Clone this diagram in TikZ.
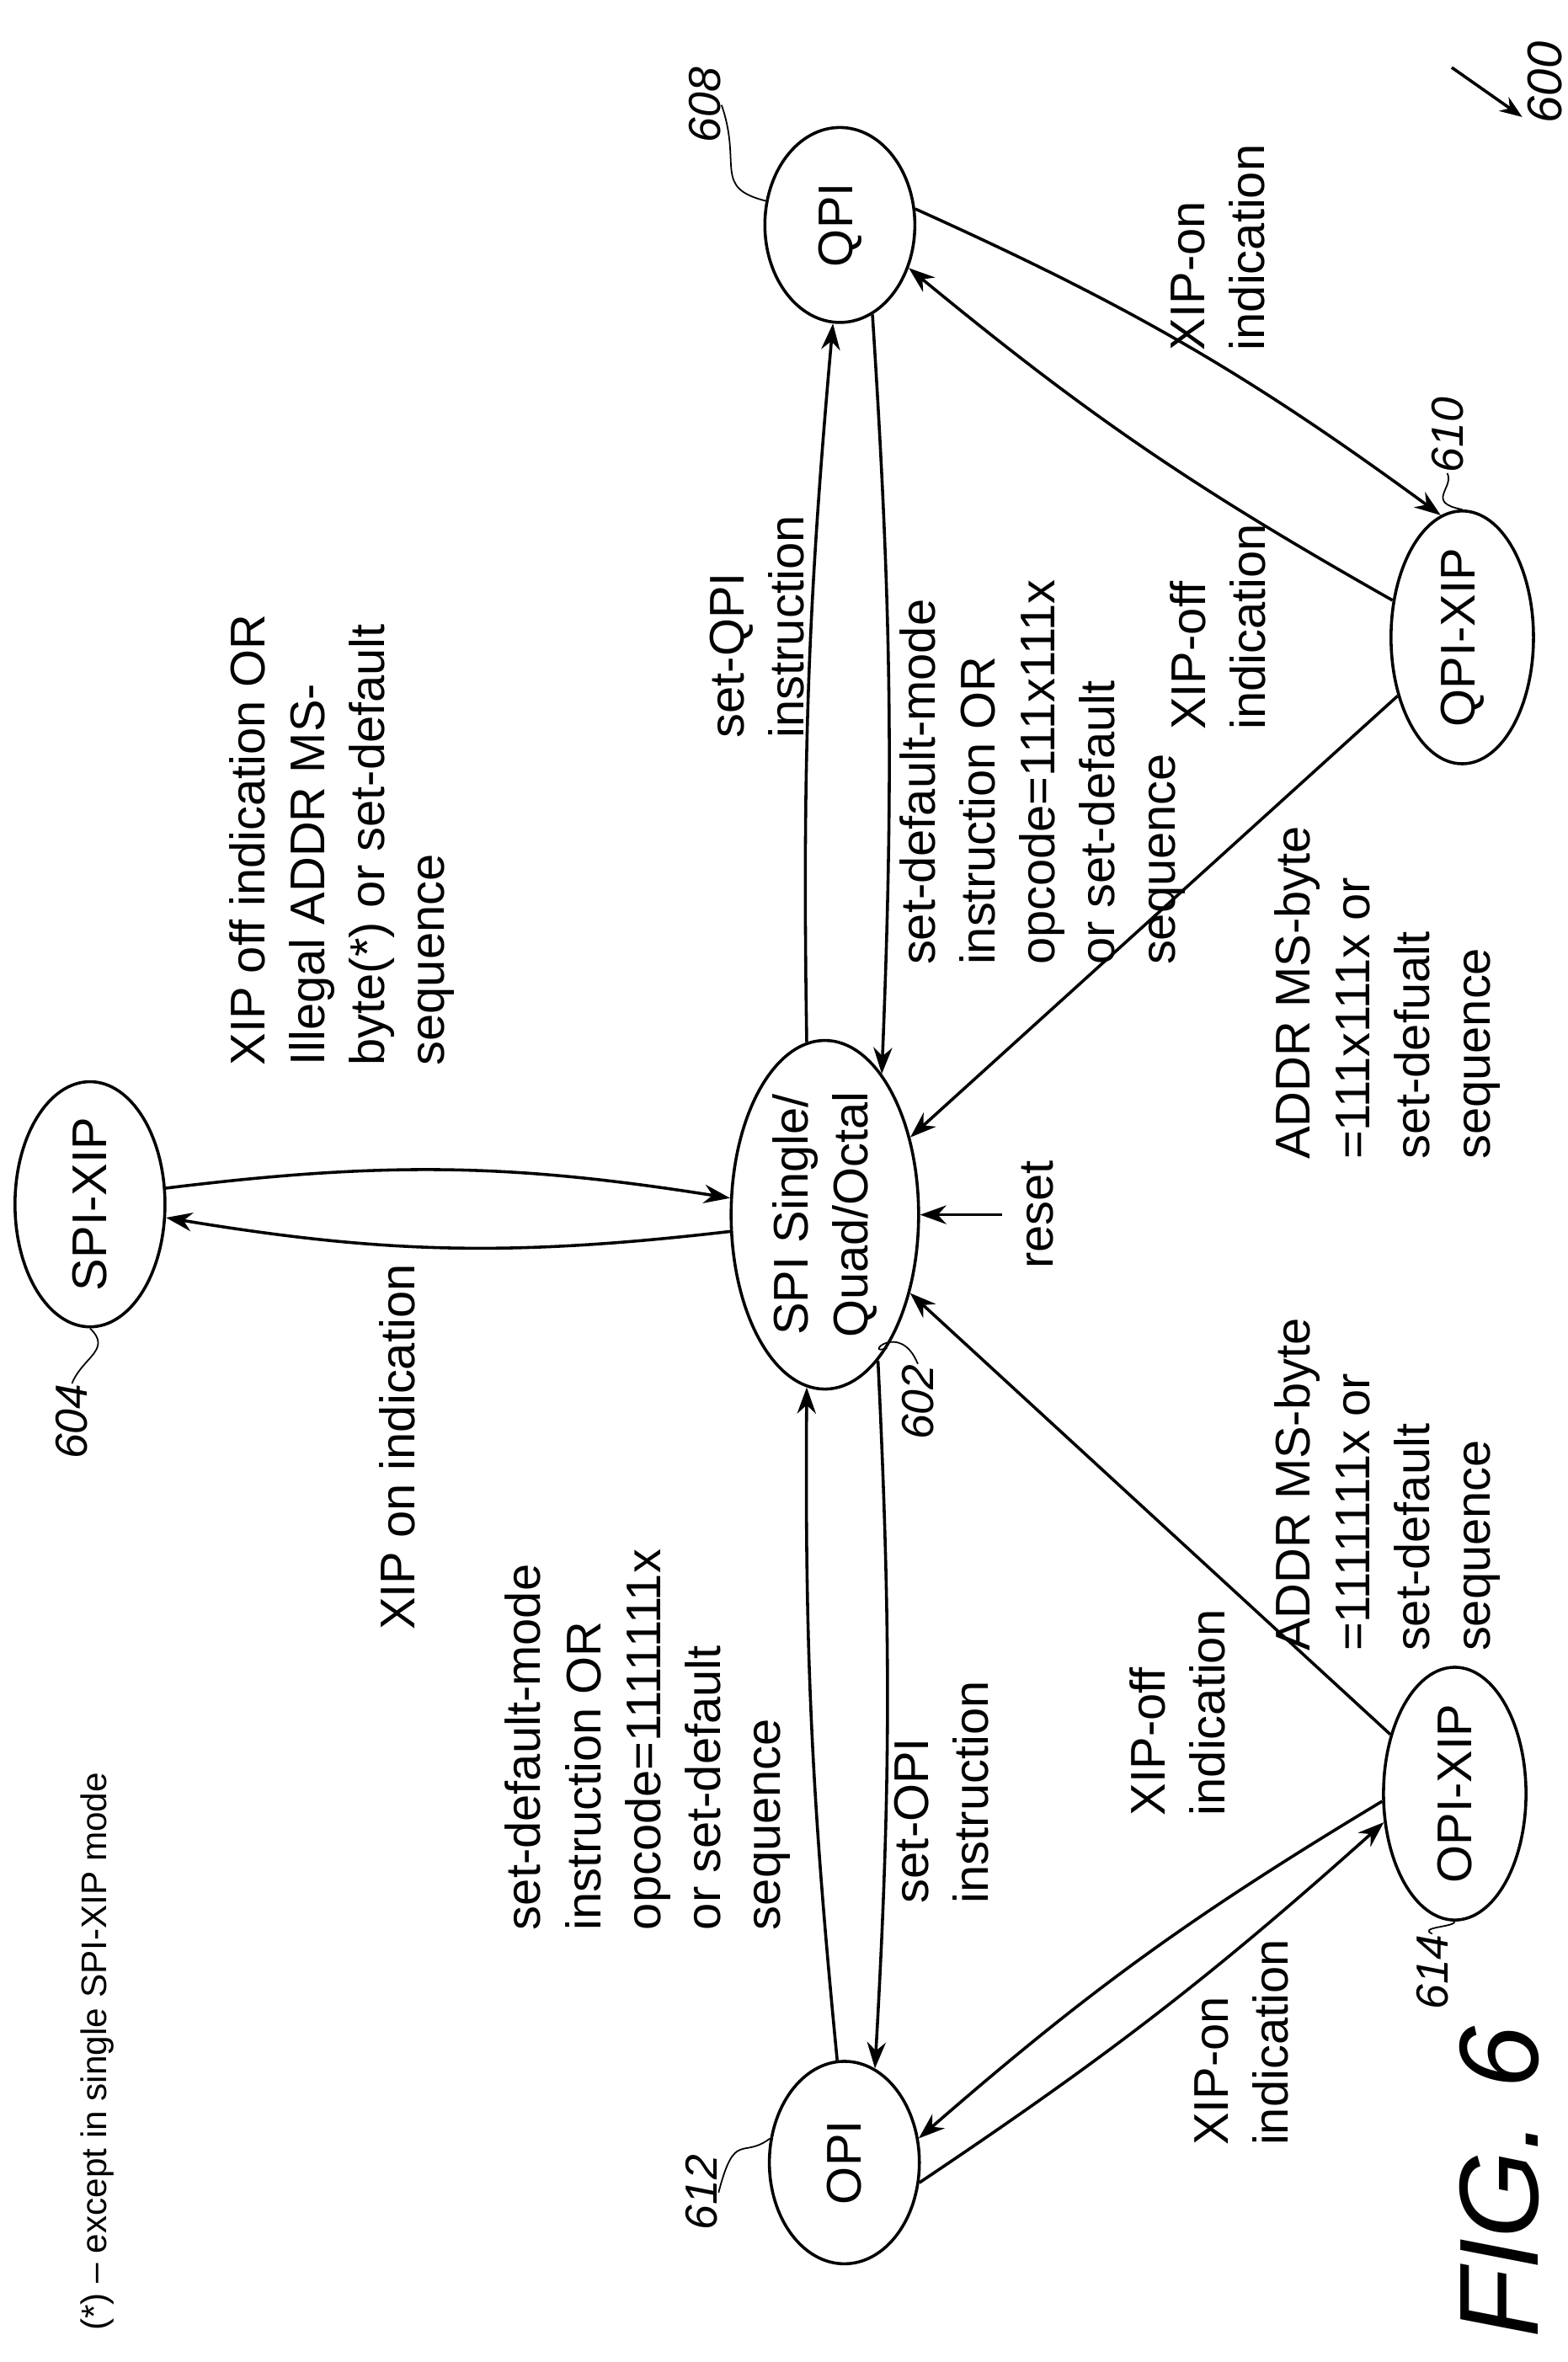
\documentclass[tikz,border=0pt]{standalone}
\usepackage{fontspec}
\setmainfont{Liberation Sans}
\usetikzlibrary{shapes.geometric,arrows.meta}

\tikzset{
    state/.style={draw, ellipse, thick, rotate=90, inner sep=0pt, align=center},
    lbl/.style={rotate=90, align=left, inner sep=0pt},
    refnum/.style={rotate=90, inner sep=0pt, font=\fontsize{12}{14}\selectfont\itshape},
    trans/.style={thick, -{Stealth[length=7pt,width=5pt]}},
}

\begin{document}
\begin{tikzpicture}[x=0.4pt, y=-0.4pt, font=\fontsize{13}{16}\selectfont]
\useasboundingbox (0,0) rectangle (1045,1575);

% states
\node [state, minimum width=60pt, minimum height=50pt] (spi) at (550,810) {SPI Single/\\Quad/Octal};
\node [state, minimum width=50pt, minimum height=40pt] (spixip) at (60,803) {SPI-XIP};
\node [state, minimum width=52pt, minimum height=40pt] (qpi) at (560,150) {QPI};
\node [state, minimum width=60pt, minimum height=38pt] (qpixip) at (975,425) {QPI-XIP};
\node [state, minimum width=54pt, minimum height=40pt] (opi) at (563,1442) {OPI};
\node [state, minimum width=58pt, minimum height=38pt] (opixip) at (970,1196) {OPI-XIP};

% transitions
\draw [trans] (spixip.-78) to[bend left=8] (spi.80);
\draw [trans] (spi.100) to[bend left=8] (spixip.-100);
\draw [trans] (spi.6) to[bend left=3] (qpi.176);
\draw [trans] (qpi.200) to[bend left=3] (spi.-22);
\draw [trans] (qpi.-78) to[bend left=6] (qpixip.10);
\draw [trans] (qpixip.62) to[bend left=5] (qpi.-122);
\draw [trans] (qpixip) -- (spi);
\draw [trans] (opixip) -- (spi);
\draw [trans] (opi.4) to[bend left=3] (spi.174);
\draw [trans] (spi.200) to[bend left=3] (opi.-18);
\draw [trans] (opixip.96) to[bend right=5] (opi.-72);
\draw [trans] (opi.-105) to[bend right=4] (opixip.112);

% reset
\coordinate (rst) at (668,810);
\draw [trans] (rst) -- (spi.-90);
\node [lbl] (resetlbl) at (692,810) {reset};

% labels
\node [lbl] (xipoff) at (228,560) {XIP off indication OR\\Illegal ADDR MS-\\byte(*) or set-default\\sequence};
\node [lbl] (xipon) at (265,965) {XIP on indication};
\node [lbl] (setqpi) at (505,418) {set-QPI\\instruction};
\node [lbl] (defq) at (695,515) {set-default-mode\\instruction OR\\opcode=111x111x\\or set-default\\sequence};
\node [lbl] (qon) at (812,165) {XIP-on\\indication};
\node [lbl] (qoff) at (812,418) {XIP-off\\indication};
\node [lbl] (addrq) at (925,662) {ADDR MS-byte\\=111x111x or\\set-defualt\\sequence};
\node [lbl] (addro) at (925,990) {ADDR MS-byte\\=1111111x or\\set-default\\sequence};
\node [lbl] (defo) at (432,1160) {set-default-mode\\instruction OR\\opcode=1111111x\\or set-default\\sequence};
\node [lbl] (setopi) at (628,1195) {set-OPI\\instruction};
\node [lbl] (ooff) at (785,1142) {XIP-off\\indication};
\node [lbl] (oon) at (828,1362) {XIP-on\\indication};
\node [lbl, font=\fontsize{9.5}{12}\selectfont] (note) at (65,1368) {(*) -- except in single SPI-XIP mode};

% reference numerals
\node [refnum] (n602) at (612,935) {602};
\draw (spi.-155) .. controls (575,905) and (600,880) .. (n602.east);
\node [refnum] (n604) at (48,948) {604};
\draw (spixip.west) .. controls (75,900) and (55,905) .. (n604.east);
\node [refnum] (n608) at (470,70) {608};
\draw (n608.south) .. controls (495,110) and (475,125) .. (qpi.72);
\node [refnum] (n610) at (965,290) {610};
\draw (qpixip.east) .. controls (950,335) and (970,325) .. (n610.west);
\node [refnum] (n612) at (468,1462) {612};
\draw (n612.south) .. controls (490,1420) and (495,1440) .. (opi.72);
\node [refnum] (n614) at (955,1315) {614};
\draw (opixip.west) .. controls (970,1285) and (945,1285) .. (n614.east);
\node [refnum, font=\fontsize{13}{15}\selectfont\itshape] (n600) at (1030,55) {600};
\coordinate (a600) at (1015,78);
\draw [thick, -{Stealth[length=6pt]}] (968,45) -- (a600);

% figure label
\node [rotate=90, inner sep=0pt, font=\fontsize{30}{34}\selectfont\itshape] (fig) at (1000,1455) {FIG. 6};
\end{tikzpicture}
\end{document}
